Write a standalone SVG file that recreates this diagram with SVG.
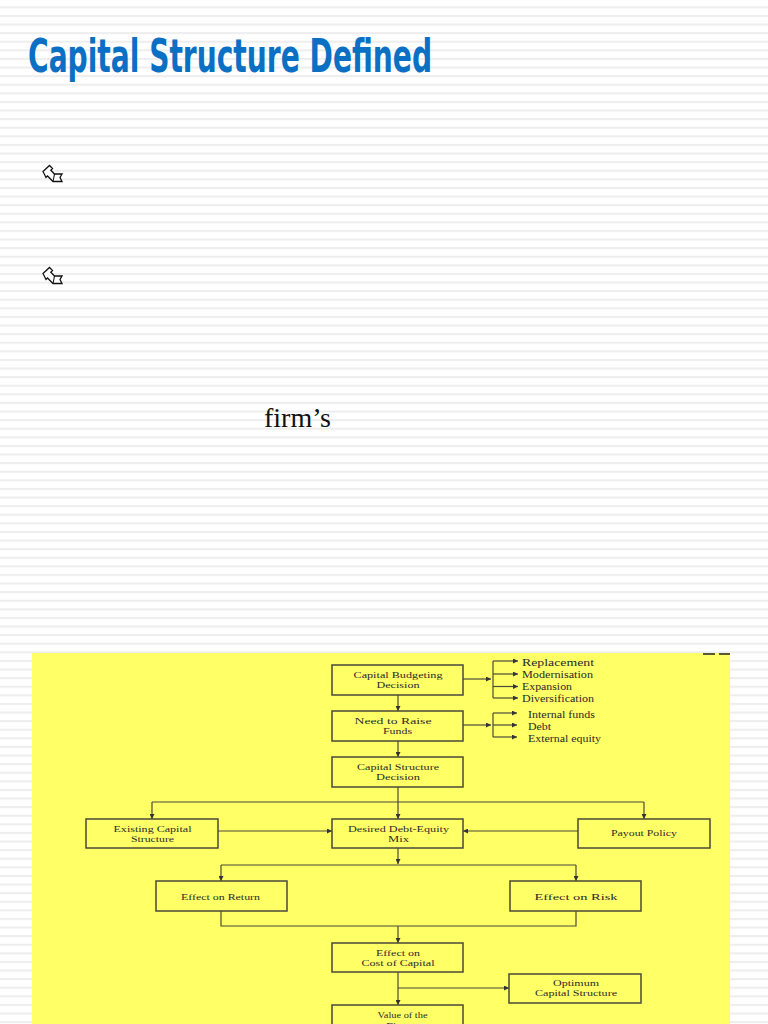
<svg xmlns="http://www.w3.org/2000/svg" width="768" height="1024" viewBox="0 0 768 1024">
<defs>
<pattern id="stripes" x="0" y="6.3" width="768" height="8.6" patternUnits="userSpaceOnUse">
<rect x="0" y="0" width="768" height="2.1" fill="#eeeeee"/>
</pattern>
<marker id="ah" viewBox="0 0 10 10" refX="10" refY="5" markerWidth="6" markerHeight="5" markerUnits="userSpaceOnUse" orient="auto">
<path d="M0,0 L10,5 L0,10 Z" fill="#333"/>
</marker>
<g id="bullet">
<path d="M1,6.5 L7.5,0.5 L10.5,3.5 L8.8,5.2 L12.5,9 L20,9 L18,12.5 L20,16.5 L11,16.5 L5.5,11 L4,12.5 Z" fill="#fff" stroke="#111" stroke-width="1.3" stroke-linejoin="miter"/>
<path d="M12.5,9 L11,16.5" fill="none" stroke="#111" stroke-width="1.1"/>
</g>
</defs>
<style>
.box{fill:none;stroke:#4a4a3a;stroke-width:1.5}
.t{font-family:"Liberation Serif","Times New Roman",serif;font-size:9px;fill:#2a2a2a;text-anchor:middle}
.l{font-family:"Liberation Serif","Times New Roman",serif;font-size:10px;fill:#2a2a2a}
.c{fill:none;stroke:#4a4a3a;stroke-width:1.2}
.ca{fill:none;stroke:#4a4a3a;stroke-width:1.2;marker-end:url(#ah)}
</style>
<rect width="768" height="1024" fill="#ffffff"/>
<rect width="768" height="1024" fill="url(#stripes)"/>
<text x="28" y="72" font-family="DejaVu Sans Condensed,DejaVu Sans,sans-serif" font-weight="bold" font-size="46" fill="#0B6FC4" textLength="404" lengthAdjust="spacingAndGlyphs">Capital Structure Defined</text>
<use href="#bullet" x="42" y="165"/>
<use href="#bullet" x="42" y="267"/>
<text x="264" y="427" font-family="Liberation Serif,Times New Roman,serif" font-size="28" fill="#111">firm’s</text>
<rect x="32" y="653" width="698" height="371" fill="#ffff66"/>
<line x1="703" y1="654" x2="730" y2="654" stroke="#222" stroke-width="1.6" stroke-dasharray="12,4"/>
<g id="connectors">
<line class="ca" x1="398" y1="695" x2="398" y2="711"/>
<line class="ca" x1="463" y1="679" x2="491" y2="679"/>
<line class="c" x1="493" y1="661" x2="493" y2="698"/>
<line class="ca" x1="493" y1="661" x2="518" y2="661"/>
<line class="ca" x1="493" y1="674" x2="518" y2="674"/>
<line class="ca" x1="493" y1="686.5" x2="518" y2="686.5"/>
<line class="ca" x1="493" y1="698" x2="518" y2="698"/>
<line class="ca" x1="463" y1="725" x2="491" y2="725"/>
<line class="c" x1="493" y1="713" x2="493" y2="737"/>
<line class="ca" x1="493" y1="713" x2="517" y2="713"/>
<line class="ca" x1="493" y1="725" x2="517" y2="725"/>
<line class="ca" x1="493" y1="737" x2="517" y2="737"/>
<line class="ca" x1="398" y1="741" x2="398" y2="757"/>
<line class="ca" x1="398" y1="787" x2="398" y2="819"/>
<line class="c" x1="152" y1="802" x2="644" y2="802"/>
<line class="ca" x1="152" y1="802" x2="152" y2="819"/>
<line class="ca" x1="644" y1="802" x2="644" y2="819"/>
<line class="ca" x1="218" y1="831" x2="332" y2="831"/>
<line class="ca" x1="578" y1="831" x2="463" y2="831"/>
<line class="ca" x1="398" y1="848" x2="398" y2="864"/>
<line class="c" x1="221" y1="865" x2="576" y2="865"/>
<line class="ca" x1="221" y1="865" x2="221" y2="881"/>
<line class="ca" x1="576" y1="865" x2="576" y2="881"/>
<path class="c" d="M221,911 V926 H576 V911"/>
<line class="ca" x1="398" y1="926" x2="398" y2="943"/>
<line class="ca" x1="398" y1="972" x2="398" y2="1005"/>
<line class="ca" x1="398" y1="988" x2="509" y2="988"/>
</g>
<g id="n-capital-budgeting">
<rect class="box" x="332" y="665" width="131" height="30"/>
<text class="t" x="398" y="677.5" textLength="89" lengthAdjust="spacingAndGlyphs">Capital Budgeting</text>
<text class="t" x="398" y="688" textLength="43" lengthAdjust="spacingAndGlyphs">Decision</text>
</g>
<g id="n-uses">
<text class="l" x="522" y="665.5" textLength="72" lengthAdjust="spacingAndGlyphs">Replacement</text>
<text class="l" x="522" y="678" textLength="71" lengthAdjust="spacingAndGlyphs">Modernisation</text>
<text class="l" x="522" y="690" textLength="50" lengthAdjust="spacingAndGlyphs">Expansion</text>
<text class="l" x="522" y="701.5" textLength="72" lengthAdjust="spacingAndGlyphs">Diversification</text>
</g>
<g id="n-need-funds">
<rect class="box" x="332" y="711" width="131" height="30"/>
<text class="t" x="393" y="724" textLength="77" lengthAdjust="spacingAndGlyphs">Need to Raise</text>
<text class="t" x="397.5" y="734" textLength="29" lengthAdjust="spacingAndGlyphs">Funds</text>
</g>
<g id="n-sources">
<text class="l" x="528" y="718" textLength="67" lengthAdjust="spacingAndGlyphs">Internal funds</text>
<text class="l" x="528" y="729.5" textLength="23" lengthAdjust="spacingAndGlyphs">Debt</text>
<text class="l" x="528" y="741.5" textLength="73" lengthAdjust="spacingAndGlyphs">External equity</text>
</g>
<g id="n-cs-decision">
<rect class="box" x="332" y="757" width="131" height="30"/>
<text class="t" x="398" y="770" textLength="82" lengthAdjust="spacingAndGlyphs">Capital Structure</text>
<text class="t" x="398" y="780" textLength="44" lengthAdjust="spacingAndGlyphs">Decision</text>
</g>
<g id="n-existing">
<rect class="box" x="86" y="819" width="132" height="29"/>
<text class="t" x="152.5" y="831.5" textLength="78" lengthAdjust="spacingAndGlyphs">Existing Capital</text>
<text class="t" x="152.5" y="841.5" textLength="43" lengthAdjust="spacingAndGlyphs">Structure</text>
</g>
<g id="n-desired">
<rect class="box" x="332" y="819" width="131" height="29"/>
<text class="t" x="398.5" y="831.5" textLength="101" lengthAdjust="spacingAndGlyphs">Desired Debt-Equity</text>
<text class="t" x="398.5" y="841.5" textLength="21" lengthAdjust="spacingAndGlyphs">Mix</text>
</g>
<g id="n-payout">
<rect class="box" x="578" y="819" width="132" height="29"/>
<text class="t" x="644" y="836" textLength="66" lengthAdjust="spacingAndGlyphs">Payout Policy</text>
</g>
<g id="n-return">
<rect class="box" x="156" y="881" width="131" height="30"/>
<text class="t" x="220.5" y="900" textLength="79" lengthAdjust="spacingAndGlyphs">Effect on Return</text>
</g>
<g id="n-risk">
<rect class="box" x="510" y="881" width="131" height="30"/>
<text class="t" x="576" y="900" textLength="83" lengthAdjust="spacingAndGlyphs">Effect on Risk</text>
</g>
<g id="n-cost">
<rect class="box" x="332" y="943" width="131" height="29"/>
<text class="t" x="398" y="955.5" textLength="44" lengthAdjust="spacingAndGlyphs">Effect on</text>
<text class="t" x="398" y="965.5" textLength="73" lengthAdjust="spacingAndGlyphs">Cost of Capital</text>
</g>
<g id="n-optimum">
<rect class="box" x="509" y="974" width="132" height="29"/>
<text class="t" x="576" y="985.5" textLength="46" lengthAdjust="spacingAndGlyphs">Optimum</text>
<text class="t" x="576" y="995.5" textLength="82" lengthAdjust="spacingAndGlyphs">Capital Structure</text>
</g>
<g id="n-value">
<rect class="box" x="332" y="1005" width="131" height="30"/>
<text class="t" x="402.5" y="1018" textLength="50" lengthAdjust="spacingAndGlyphs">Value of the</text>
<text class="t" x="398" y="1028.5" textLength="24" lengthAdjust="spacingAndGlyphs">Firm</text>
</g>
</svg>
